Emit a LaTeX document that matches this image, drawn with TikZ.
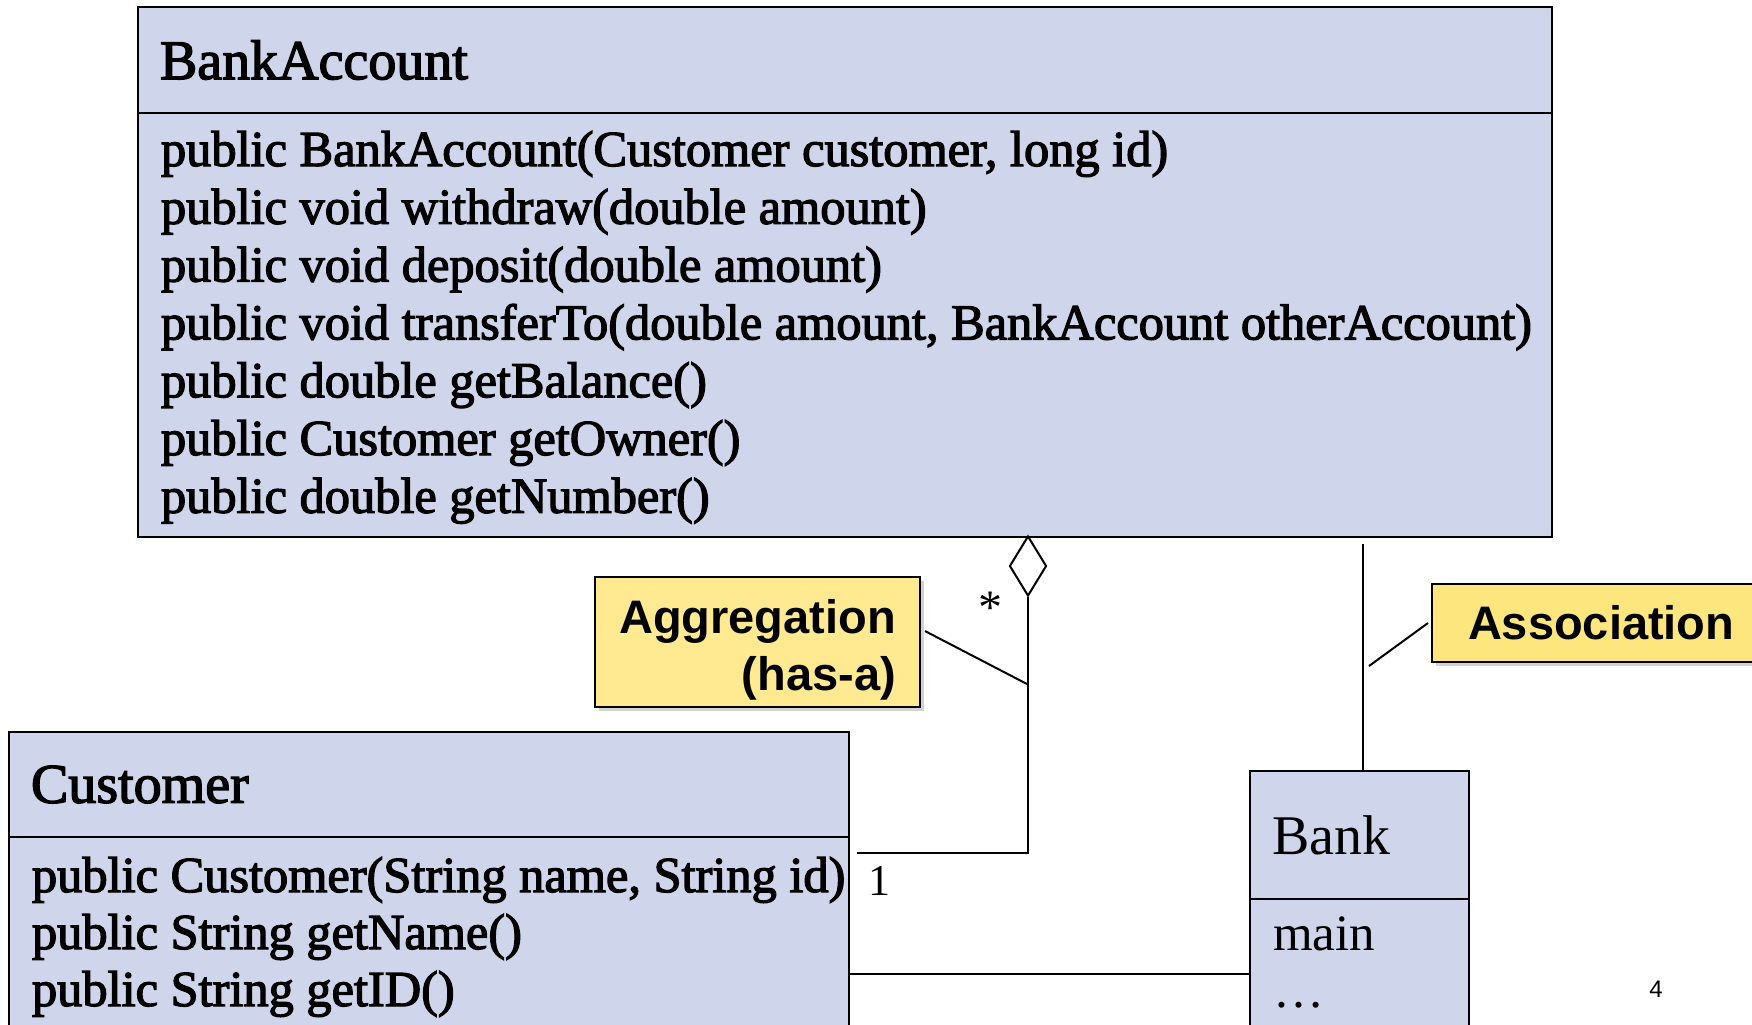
\documentclass[tikz,border=0pt]{standalone}
\usepackage{fontspec}
\setmainfont{Liberation Serif}
\setsansfont{Liberation Sans}
\newfontfamily\umlfont[FakeBold=2.5]{Liberation Serif}
\usetikzlibrary{shapes,arrows,positioning,shadows}

\definecolor{classblue}{RGB}{207,213,234}
\definecolor{noteyellow}{RGB}{255,233,145}
\definecolor{notegold}{RGB}{253,230,125}

\begin{document}
\begin{tikzpicture}[x=0.5pt,y=-0.5pt,line width=1pt,
                class head/.style={draw,fill=classblue,anchor=north west,outer sep=0pt,inner xsep=11pt,align=left,
                                   font=\umlfont\fontsize{28}{33}\selectfont},
                class body/.style={draw,fill=classblue,outer sep=0pt},
                member/.style={anchor=base west,inner sep=0pt,font=\umlfont\fontsize{25.2}{30}\selectfont},
                note box/.style={draw,fill=noteyellow,outer sep=0pt,
                                 drop shadow={shadow xshift=2pt,shadow yshift=-2pt,opacity=0.35},
                                 font=\sffamily\bfseries\fontsize{23.5}{28.5}\selectfont}]
  \useasboundingbox (0,0) rectangle (1752,1024);
  \fill[white] (0,0) rectangle (1752,1024);
  \clip (0,0) rectangle (1752,1024);

  % BankAccount
  \node[class head,minimum width=707pt,text width=685pt,minimum height=53pt] (bahead) at (138,7) {BankAccount};
  \node[class body,below=0pt of bahead,minimum width=707pt,minimum height=212pt] (babody) {};
  \foreach \m [count=\i from 0] in {{public BankAccount(Customer customer, long id)},
      {public void withdraw(double amount)},{public void deposit(double amount)},
      {public void transferTo(double amount, BankAccount otherAccount)},
      {public double getBalance()},{public Customer getOwner()},{public double getNumber()}}
    \node[member] (bam\i) at (160,166+57.8*\i) {\m};

  % Customer
  \node[class head,minimum width=420pt,text width=398pt,minimum height=52.5pt] (chead) at (9,732) {Customer};
  \node[class body,below=0pt of chead,minimum width=420pt,minimum height=125pt] (cbody) {};
  \foreach \m [count=\i from 0] in {{public Customer(String name, String id)},
      {public String getName()},{public String getID()}}
    \node[member] (cm\i) at (31,892+57*\i) {\m};

  % Bank
  \node[class head,minimum width=109.5pt,text width=87.5pt,minimum height=64pt,
        font=\fontsize{28}{33}\selectfont] (bhead) at (1250,771) {Bank};
  \node[class body,below=0pt of bhead,minimum width=109.5pt,minimum height=75pt] (bbody) {};
  \node[member,font=\fontsize{25.5}{30}\selectfont] (bmain) at (1272,950) {main};
  \node[member,font=\fontsize{25.5}{30}\selectfont] (bdots) at (1272,1007) {\ldots};

  % aggregation
  \node[draw,diamond,fill=white,aspect=0.6,inner sep=0pt,minimum width=18.5pt,minimum height=30pt] (agg) at (1028,566) {};
  \coordinate (custend) at (857,853);
  \draw (agg.south) |- (custend);
  \node[font=\fontsize{24}{29}\selectfont] (many) at (990,608) {*};
  \node[anchor=base,font=\fontsize{22}{26}\selectfont] (one) at (879,895) {1};

  % association
  \coordinate (banktop) at (1363,544);
  \draw (banktop) -- (banktop |- bhead.north);
  \coordinate (cbline) at (0,974);
  \draw (cbody.east |- cbline) -- (bbody.west |- cbline);

  % notes
  \node[note box,align=right,anchor=north west,minimum width=162.5pt,minimum height=65pt] (aggnote) at (595,577)
    {\rule{0pt}{25pt}Aggregation\\(has-a)};
  \coordinate (aggtip) at (1027,684);
  \draw ([shift={(5,-11)}]aggnote.east) -- (aggtip);
  \node[note box,fill=notegold,anchor=west,inner xsep=18pt,minimum height=39pt] (assocnote) at (1432,623) {Association};
  \coordinate (assoctip) at (1369,666);
  \draw ([xshift=-2pt]assocnote.west) -- (assoctip);

  \node[anchor=base,font=\sffamily\fontsize{12}{14}\selectfont] (pagenum) at (1656,997) {4};
\end{tikzpicture}
\end{document}
